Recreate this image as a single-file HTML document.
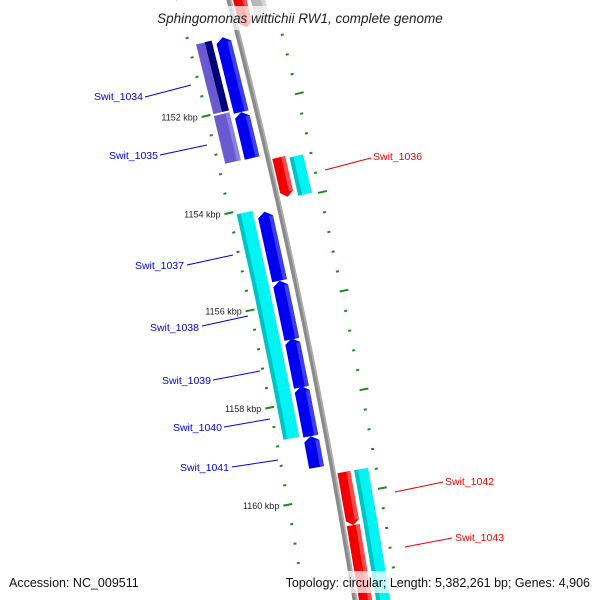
<!DOCTYPE html>
<html><head><meta charset="utf-8"><style>
html,body{margin:0;padding:0;background:#fff;}
svg{display:block;font-family:"Liberation Sans","DejaVu Sans",sans-serif;}
</style></head><body>
<svg id="chart" width="600" height="600" viewBox="0 0 600 600" xmlns="http://www.w3.org/2000/svg">
<g id="marks"></g>
<g id="labels"></g>
<rect x="0" y="6" width="600" height="24" fill="#fff" opacity="0.72"/>
<text x="300" y="23" text-anchor="middle" font-size="13.5" font-style="italic" fill="#222">Sphingomonas wittichii RW1, complete genome</text>
<rect x="0" y="571" width="600" height="22" fill="#fff" opacity="0.72"/>
<text x="9" y="587" font-size="12.5" fill="#111">Accession: NC_009511</text>
<text x="590" y="587" text-anchor="end" font-size="12.5" fill="#111">Topology: circular; Length: 5,382,261 bp; Genes: 4,906</text>
</svg>
<script>
// data (positions in kbp)
const geneNames  = ['top-red','top-gray','Swit_1034','Swit_1034b','Swit_1035','Swit_1035b','Swit_1036','Swit_1036c','Swit_1037','Swit_1038','Swit_1039','Swit_1040','Swit_1041','Swit_1037c','Swit_1038c','Swit_1040c','Swit_1042','Swit_1043','Swit_1042c','Swit_1043c'];
const geneStarts = [1149.0,1149.0,1150.56,1150.57,1152.09,1152.04,1153.14,1153.19,1154.13,1155.54,1156.72,1157.70,1158.72,1154.06,1155.49,1157.67,1159.55,1160.63,1159.55,1160.65];
const geneEnds   = [1150.49,1150.52,1152.09,1152.0,1153.03,1153.02,1153.94,1153.97,1155.54,1156.74,1157.72,1158.72,1159.36,1155.49,1157.67,1158.69,1160.63,1162.6,1160.65,1162.6];
const geneLanes  = ['rin','rout','lin','lpair','lin','lout','rin','rout','lin','lin','lin','lin','lin','lout','lout','lout','rin','rin','rout','rout'];
const geneKinds  = ['red','gray','blue','purple','blue','purple','red','cyan','blue','blue','blue','blue','blue','cyan','cyan','cyan','red','red','cyan','cyan'];
const majorTicks = [1152,1154,1156,1158,1160];
const majorTickLabels = ['1152 kbp','1154 kbp','1156 kbp','1158 kbp','1160 kbp'];

const NS='http://www.w3.org/2000/svg';
const marks=document.getElementById('marks');
const labels=document.getElementById('labels');
// axis functions
function ys(kb){return 104+(kb-1152)*49;}
function bbx(s){return 229+0.26*s-0.0000833*s*s;}
function pt(s,r){const m=0.26-0.0001666*s;const L=Math.sqrt(1+m*m);return [bbx(s)+r/L, s-r*m/L];}
const lanes={lin:[-23,-8],lout:[-43,-27],lpair:[-43,-27],rin:[4,17],rout:[21,35]};
const colors={blue:['#0000f0','#3c3cff'],cyan:['#00f4f4','#00c4c4'],red:['#f00000','#ff4a4a'],purple:['#6a5ad0','#8b80e2'],gray:['#b8b8b8','#d4d4d4']};
function poly(pts,fill,name){
  const p=document.createElementNS(NS,'polygon');
  p.setAttribute('points',pts.map(q=>q[0].toFixed(1)+','+q[1].toFixed(1)).join(' '));
  p.setAttribute('fill',fill);
  
  
  marks.appendChild(p);return p;
}
function line(a,b,stroke,w,name,parent){
  const l=document.createElementNS(NS,'line');
  l.setAttribute('x1',a[0]);l.setAttribute('y1',a[1]);l.setAttribute('x2',b[0]);l.setAttribute('y2',b[1]);
  l.setAttribute('stroke',stroke);l.setAttribute('stroke-width',w);
  
  
  (parent||marks).appendChild(l);
}
// backbone
(function(){
  let d='';for(let s=-10;s<=620;s+=10){const q=pt(s,0);d+=(s==-10?'M':'L')+q[0].toFixed(1)+','+q[1].toFixed(1);}
  const p=document.createElementNS(NS,'path');p.setAttribute('d',d);p.setAttribute('fill','none');
  p.setAttribute('stroke','#8a8a8a');p.setAttribute('stroke-width','5');
  
  
  marks.appendChild(p);
  const p2=p.cloneNode();p2.setAttribute('stroke','#b0b0b0');p2.setAttribute('stroke-width','1.5');p2.setAttribute('transform','translate(1.5,0)');
  
  marks.appendChild(p2);
})();
// ticks
for(let k=1149.6;k<=1162.01;k+=0.4){
  const kb=Math.round(k*10)/10;const s=ys(kb);
  const major=majorTicks.indexOf(Math.round(kb*10)/10)>=0;
  if(major){
    line(pt(s,-55),pt(s,-46),'#1c8c1c',2,'tick-major-left');
    line(pt(s,41),pt(s,50),'#1c8c1c',2,'tick-major-right');
  }else{
    line(pt(s,-51.5),pt(s,-48.5),'#1c8c1c',2,'tick-minor-left');
    line(pt(s,41.5),pt(s,44.5),'#1c8c1c',2,'tick-minor-right');
  }
}
majorTicks.forEach((kb,i)=>{
  const q=pt(ys(kb),-57);
  const t=document.createElementNS(NS,'text');
  t.setAttribute('x',q[0]-2);t.setAttribute('y',q[1]+3);t.setAttribute('text-anchor','end');
  t.setAttribute('font-size','9');t.setAttribute('fill','#222');
  
  
  t.textContent=majorTickLabels[i];labels.appendChild(t);
});
// genes
geneNames.forEach((nm,i)=>{
  const s1=ys(geneStarts[i]),s2=ys(geneEnds[i]);
  const [r1,r2]=lanes[geneLanes[i]];const kind=geneKinds[i];
  const fwd=(kind==='blue');const rev=(kind==='red'||kind==='gray');
  const tip=5;const rm=(r1+r2)/2;
  let pts;
  if(fwd) pts=[pt(s1,rm),pt(s1+tip,r2),pt(s2,r2),pt(s2,r1),pt(s1+tip,r1)];
  else if(rev) pts=[pt(s1,r1),pt(s1,r2),pt(s2-tip,r2),pt(s2,rm),pt(s2-tip,r1)];
  else pts=[pt(s1,r1),pt(s1,r2),pt(s2,r2),pt(s2,r1)];
  const c=colors[kind];
  poly(pts,c[0],'gene-'+nm);
  // shading strip
  if(kind==='cyan'){
    poly([pt(s1,r1),pt(s1,r1+4),pt(s2,r1+4),pt(s2,r1)],c[1],'gene-shade-'+nm);
  }else if(geneLanes[i]==='lpair'){
    poly([pt(s1,r1+9),pt(s1,r2),pt(s2,r2),pt(s2,r1+9)],'#00007a','gene-pair-'+nm);
  }else{
    const a=fwd?s1+tip:s1, b=rev?s2-tip:s2;
    poly([pt(a,r2-4),pt(a,r2),pt(b,r2),pt(b,r2-4)],c[1],'gene-shade-'+nm);
  }
});
// gene labels
const labelTexts=['Swit_1034','Swit_1035','Swit_1037','Swit_1038','Swit_1039','Swit_1040','Swit_1041','Swit_1036','Swit_1042','Swit_1043'];
const labelPos=[[143,100,145,97,191,85,'end','#0000ee'],[158,159,160,155,207,145,'end','#0000ee'],[184,269,187,265,233,255,'end','#0000ee'],[199,331,202,326,248,316,'end','#0000ee'],[211,384,213,380,260,371,'end','#0000ee'],[222,431,224,427,270,419,'end','#0000ee'],[229,471,232,467,278,460,'end','#0000ee'],[373,160,325,170,371,158,'start','#ee0000'],[445,485,395,492,443,482,'start','#ee0000'],[455,541,405,547,452,538,'start','#ee0000']];
labelTexts.forEach((tx,i)=>{
  const L=labelPos[i];
  line([L[2],L[3]],[L[4],L[5]],L[7],1,'label-line-'+tx,labels);
  const t=document.createElementNS(NS,'text');
  t.setAttribute('x',L[0]);t.setAttribute('y',L[1]);t.setAttribute('text-anchor',L[6]);
  t.setAttribute('font-size','10.5');t.setAttribute('fill',L[7]);
  
  
  t.textContent=tx;labels.appendChild(t);
});
</script>
</body></html>
